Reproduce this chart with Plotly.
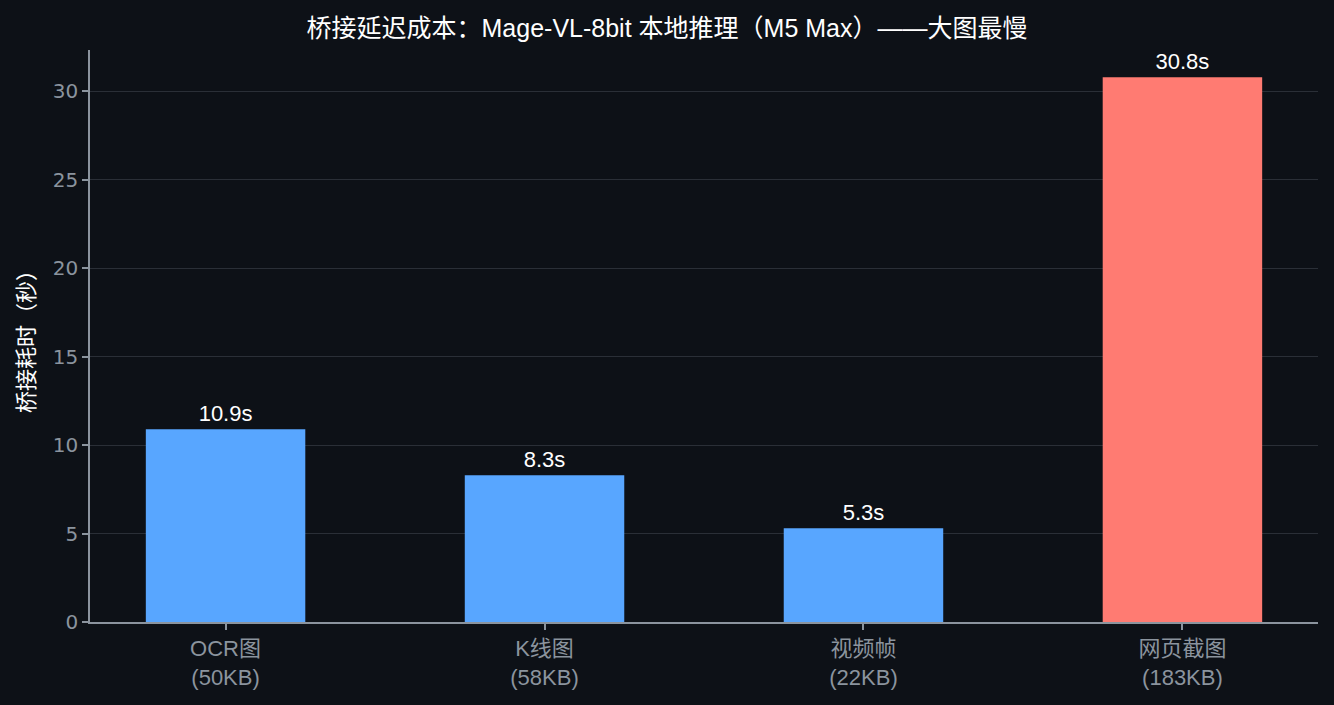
import plotly.graph_objects as go

categories = ["OCR图<br>(50KB)", "K线图<br>(58KB)", "视频帧<br>(22KB)", "网页截图<br>(183KB)"]
values = [10.9, 8.3, 5.3, 30.8]
labels = ["10.9s", "8.3s", "5.3s", "30.8s"]
colors = ["#58a6ff", "#58a6ff", "#58a6ff", "#ff7b72"]

BG = "#0d1117"
GRAY = "#8b949e"
CJK = "Liberation Sans, Arial, Noto Sans CJK SC"

fig = go.Figure()
fig.add_trace(go.Bar(
    x=list(range(len(categories))), y=values,
    marker=dict(color=colors, line=dict(width=0)),
    width=0.5,
    text=labels, textposition="outside",
    textfont=dict(color="white", size=22, family=CJK),
    cliponaxis=False,
    hoverinfo="skip",
))

fig.update_layout(
    width=1334, height=705,
    paper_bgcolor=BG, plot_bgcolor=BG,
    margin=dict(l=90, r=16, t=50, b=83),
    showlegend=False,
    title=dict(
        text="桥接延迟成本：Mage-VL-8bit 本地推理（M5 Max）——大图最慢",
        x=0.5, xanchor="center", xref="container",
        y=1 - 28 / 705, yanchor="middle", yref="container",
        font=dict(color="white", size=25, family=CJK),
    ),
    xaxis=dict(
        range=[-0.425, 3.425],
        tickmode="array", tickvals=list(range(len(categories))), ticktext=categories,
        tickfont=dict(color=GRAY, size=22, family=CJK),
        showgrid=False, zeroline=False,
        showline=True, linecolor=GRAY, linewidth=1.5,
        ticks="outside", ticklen=6, tickcolor=GRAY, tickwidth=1.5,
    ),
    yaxis=dict(
        range=[0, 32.34],
        tickvals=[0, 5, 10, 15, 20, 25, 30],
        tickfont=dict(color=GRAY, size=20, family="DejaVu Sans"),
        showgrid=True, gridcolor="#2a2f37", gridwidth=1,
        zeroline=False,
        showline=True, linecolor=GRAY, linewidth=1.5,
        ticks="outside", ticklen=6, tickcolor=GRAY, tickwidth=1.5,
        title=dict(text="桥接耗时（秒）", font=dict(color="white", size=22, family=CJK), standoff=12),
    ),
)

fig.write_html(
    "out.html",
    config={"displayModeBar": False},
    post_script="document.body.style.margin='0';document.body.style.overflow='hidden';",
)
